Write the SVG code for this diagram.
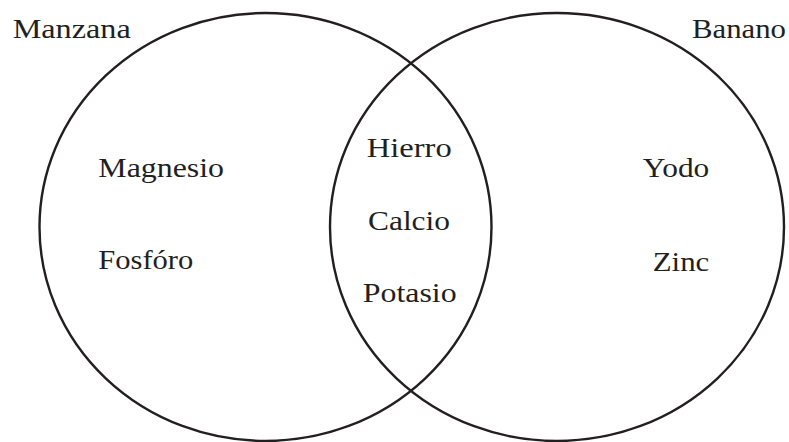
<svg xmlns="http://www.w3.org/2000/svg" width="789" height="442" viewBox="0 0 789 442">
  <style>
    .set { fill: none; stroke: #231f20; stroke-width: 2.4; }
    .lbl { font-family: "Liberation Serif", "Times New Roman", serif; font-size: 28px; fill: #231f20; }
  </style>
  <rect x="0" y="0" width="789" height="442" fill="#ffffff"/>
  <g id="set-manzana">
    <ellipse class="set" cx="265.5" cy="227" rx="226" ry="214"/>
    <text class="lbl" x="12.7" y="38" textLength="118" lengthAdjust="spacingAndGlyphs">Manzana</text>
  </g>
  <g id="set-banano">
    <ellipse class="set" cx="557" cy="227" rx="227" ry="214"/>
    <text class="lbl" x="692" y="38" textLength="94" lengthAdjust="spacingAndGlyphs">Banano</text>
  </g>
  <g id="only-manzana">
    <text class="lbl" x="98.3" y="176.7" textLength="125.7" lengthAdjust="spacingAndGlyphs">Magnesio</text>
    <text class="lbl" x="98.3" y="269.3" textLength="95" lengthAdjust="spacingAndGlyphs">Fosfóro</text>
  </g>
  <g id="both">
    <text class="lbl" x="366.7" y="156.7" textLength="85" lengthAdjust="spacingAndGlyphs">Hierro</text>
    <text class="lbl" x="368" y="230" textLength="82" lengthAdjust="spacingAndGlyphs">Calcio</text>
    <text class="lbl" x="362.7" y="301.7" textLength="94" lengthAdjust="spacingAndGlyphs">Potasio</text>
  </g>
  <g id="only-banano">
    <text class="lbl" x="642.7" y="177.3" textLength="66.6" lengthAdjust="spacingAndGlyphs">Yodo</text>
    <text class="lbl" x="652.7" y="270.7" textLength="56.6" lengthAdjust="spacingAndGlyphs">Zinc</text>
  </g>
  <g id="connectors"></g>
</svg>
